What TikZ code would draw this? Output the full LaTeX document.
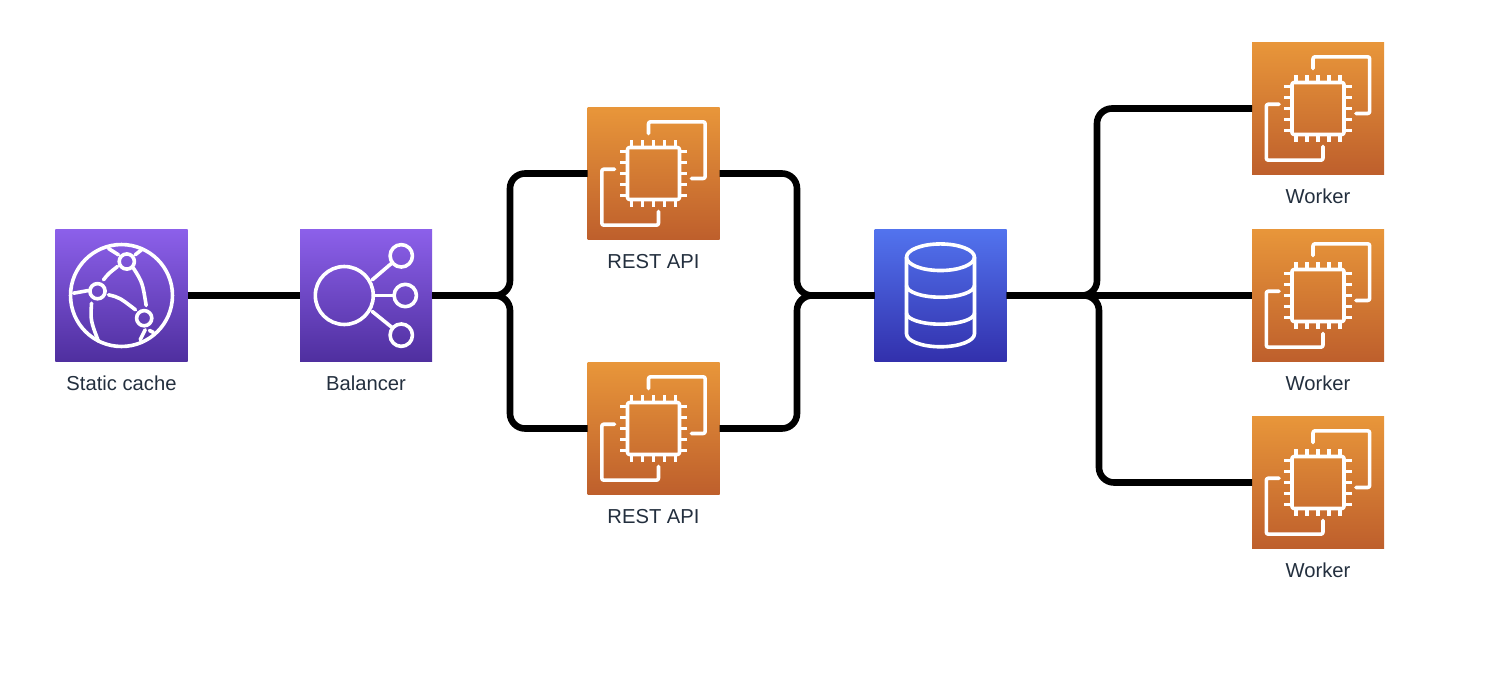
\documentclass[tikz,border=0pt]{standalone}
\usepackage{fontspec}
\setmainfont{Liberation Sans}
\definecolor{purpletop}{HTML}{8C60EA}
\definecolor{purplebot}{HTML}{4F2F9F}
\definecolor{orangetop}{HTML}{E8963A}
\definecolor{orangebot}{HTML}{BE5F2C}
\definecolor{bluetop}{HTML}{5273EE}
\definecolor{bluebot}{HTML}{3230AC}
\definecolor{captioncolor}{HTML}{232F3E}
\tikzset{
    box/.style={minimum size=1.32cm,inner sep=0pt,outer sep=0pt},
    purplebox/.style={box,top color=purpletop,bottom color=purplebot},
    orangebox/.style={box,top color=orangetop,bottom color=orangebot},
    bluebox/.style={box,top color=bluetop,bottom color=bluebot},
    caption/.style={text=captioncolor,font=\fontsize{5.75pt}{7pt}\selectfont,inner sep=0pt,yshift=-0.22cm},
    wire/.style={line width=0.066cm,black,rounded corners=0.15cm},
    glyph/.style={line width=0.036cm,white,line cap=round,line join=round},
    pics/chipicon/.style={code={
        \draw[glyph,rounded corners=0.02cm] (-5,40) -- (-5,51.7) -- (51.7,51.7) -- (51.7,-5) -- (38,-5);
        \draw[glyph,rounded corners=0.02cm] (-39,4.3) -- (-51.7,4.3) -- (-51.7,-51.7) -- (5,-51.7) -- (5,-38);
        \draw[glyph,rounded corners=0.02cm] (-26,-26) rectangle (26,26);
        \foreach \p in {-22,-11,0,11,22} {
            \draw[glyph,line cap=butt] (\p,26) -- (\p,34);
            \draw[glyph,line cap=butt] (\p,-26) -- (\p,-34);
            \draw[glyph,line cap=butt] (26,\p) -- (34,\p);
            \draw[glyph,line cap=butt] (-26,\p) -- (-34,\p);
        }
    }},
    pics/globeicon/.style={code={
        \draw[glyph] (0,0) circle (51);
        \foreach \q in {(5.3,34),(-24,4.3),(22.7,-22.7)}
            \draw[glyph] \q circle (7.6);
        \draw[glyph] (-18,15.7) .. controls (-13,22) .. (-4,29);
        \draw[glyph] (12,27.3) .. controls (21,13) .. (24.7,-10);
        \draw[glyph] (-13,0.7) .. controls (-2,-2) .. (14,-14.3);
        \draw[glyph] (-48,2.3) -- (-33,5);
        \draw[glyph] (-30,-7.7) .. controls (-31,-25) .. (-23,-46);
        \draw[glyph] (-13,47) -- (-3,40.7);
        \draw[glyph] (13.7,40.7) -- (20,45.7);
        \draw[glyph] (18.7,-44.3) -- (23.7,-34.3);
        \draw[glyph] (28,-35) -- (32,-37);
    }},
    pics/balancericon/.style={code={
        \draw[glyph] (-21.7,0) circle (29);
        \foreach \q in {(35.3,39.7),(39.3,0),(35.3,-39.7)}
            \draw[glyph] \q circle (11.2);
        \draw[glyph] (6.3,15.7) -- (25.7,32.3);
        \draw[glyph] (7.5,0) -- (28,0);
        \draw[glyph] (6.3,-16) -- (25.7,-31.7);
    }},
    pics/dbicon/.style={code={
        \draw[glyph] (0,38.3) ellipse (34 and 13.3);
        \draw[glyph] (-34,38.3) -- (-34,-38.3) arc (180:360:34 and 13) -- (34,38.3);
        \draw[glyph] (-34,10) arc (180:360:34 and 11.7);
        \draw[glyph] (-34,-17.7) arc (180:360:34 and 11);
    }},
}
\begin{document}
\begin{tikzpicture}
\useasboundingbox (0,0) rectangle (14.88,-6.78);
\def\my{-2.955}
% boxes
\node[purplebox] (cache) at (1.215,\my) {};
\node[purplebox] (balancer) at (3.66,\my) {};
\node[bluebox] (db) at (9.405,\my) {};
\foreach \n/\y in {1/-1.735, 2/-4.285}
    \node[orangebox] (api\n) at (6.535,\y) {};
\foreach \n/\y in {1/-1.085, 2/-2.955, 3/-4.825}
    \node[orangebox] (worker\n) at (13.18,\y) {};
% captions
\node[caption] (cachetext) at (cache.south) {Static cache};
\node[caption] (balancertext) at (balancer.south) {Balancer};
\foreach \n in {1,2}
    \node[caption] (apitext\n) at (api\n.south) {REST API};
\foreach \n in {1,2,3}
    \node[caption] (workertext\n) at (worker\n.south) {Worker};
% icons
\begin{scope}[x=0.01cm,y=0.01cm]
\pic at (cache) {globeicon};
\pic at (balancer) {balancericon};
\pic at (db) {dbicon};
\foreach \n in {1,2}
    \pic at (api\n) {chipicon};
\foreach \n in {1,2,3}
    \pic at (worker\n) {chipicon};
\end{scope}
% wires
\coordinate (leftbus) at (5.1,\my);
\coordinate (rightbus) at (7.97,\my);
\coordinate (workerbus) at (10.97,\my);
\coordinate (workerbuslow) at (10.99,\my);
\draw[wire] (cache.east) -- (balancer.west);
\draw[wire] (balancer.east) -- (leftbus) |- (api1.west);
\draw[wire] (balancer.east) -- (leftbus) |- (api2.west);
\draw[wire] (api1.east) -| (rightbus) -- (db.west);
\draw[wire] (api2.east) -| (rightbus) -- (db.west);
\draw[wire] (db.east) -- (workerbus) |- (worker1.west);
\draw[wire] (db.east) -- (worker2.west);
\draw[wire] (db.east) -- (workerbuslow) |- (worker3.west);
\end{tikzpicture}
\end{document}
